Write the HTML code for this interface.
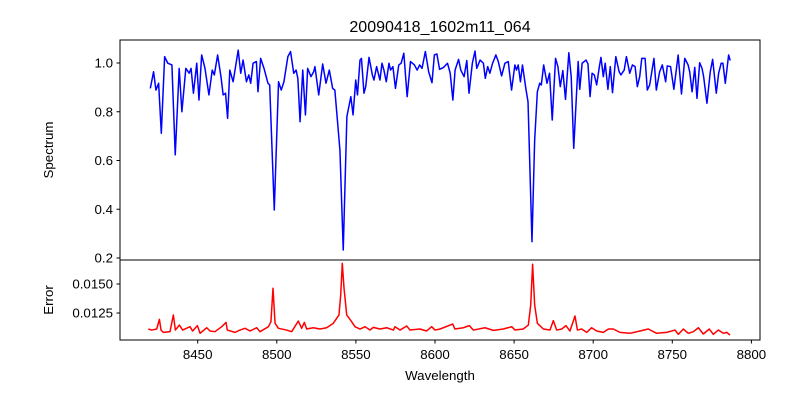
<!DOCTYPE html>
<html><head><meta charset="utf-8"><style>
body{margin:0;background:#fff}
svg{display:block;font-family:"Liberation Sans","DejaVu Sans",sans-serif}
</style></head><body>
<svg id="fig" width="800" height="400" xmlns="http://www.w3.org/2000/svg">
<rect width="800" height="400" fill="#fff"/>
<text x="440" y="32" font-size="16" text-anchor="middle">20090418_1602m11_064</text>
<g id="topPanel"></g>
<g id="botPanel"></g>
<text x="0" y="0" font-size="13.3" text-anchor="middle" transform="translate(53,150) rotate(-90)">Spectrum</text>
<text x="0" y="0" font-size="13.3" text-anchor="middle" transform="translate(53,300) rotate(-90)">Error</text>
<text x="440" y="380" font-size="13.3" text-anchor="middle">Wavelength</text>
</svg>
<script>
const specWave=[8420.05,8422.1,8423.6,8425.3,8427.0,8429.1,8431.1,8433.7,8435.8,8438.3,8440.0,8442.5,8444.6,8445.8,8447.3,8449.4,8450.8,8452.5,8454.6,8457.1,8459.2,8460.5,8462.6,8464.7,8466.1,8467.6,8468.9,8470.3,8472.4,8475.6,8477.2,8478.7,8480.8,8482.3,8483.5,8485.0,8487.1,8488.1,8489.8,8491.9,8494.4,8495.5,8498.4,8501.1,8502.8,8504.5,8507.0,8508.7,8510.7,8512.2,8513.3,8514.7,8516.4,8518.1,8519.5,8521.6,8523.3,8524.1,8526.5,8529.0,8531.1,8533.2,8535.3,8536.7,8539.9,8542.0,8544.3,8546.8,8548.2,8549.9,8551.0,8552.6,8553.5,8555.1,8556.2,8558.3,8560.4,8561.4,8563.1,8565.2,8566.5,8567.7,8569.2,8570.9,8571.9,8573.4,8575.0,8577.1,8578.6,8580.3,8582.4,8584.5,8587.0,8588.7,8590.3,8591.8,8593.9,8596.0,8598.1,8599.6,8601.2,8602.9,8605.4,8607.9,8609.6,8611.3,8612.7,8614.9,8616.3,8618.4,8620.1,8621.5,8623.6,8625.3,8626.4,8628.5,8630.6,8631.8,8633.3,8634.7,8636.4,8638.5,8640.0,8642.1,8644.2,8646.3,8648.4,8650.5,8651.5,8652.6,8654.0,8655.3,8657.4,8658.8,8661.3,8663.0,8664.7,8666.2,8667.2,8668.7,8670.8,8672.4,8674.1,8676.2,8677.7,8679.2,8680.8,8682.5,8684.6,8686.1,8687.7,8690.5,8691.5,8693.0,8695.5,8696.7,8698.0,8699.3,8700.7,8702.2,8703.9,8704.9,8706.4,8707.6,8709.3,8710.8,8712.2,8714.3,8716.4,8717.5,8719.6,8721.0,8723.1,8724.8,8726.5,8727.9,8729.4,8730.7,8732.8,8734.2,8735.7,8738.4,8739.9,8742.0,8743.7,8745.8,8746.8,8748.9,8751.0,8753.7,8755.8,8757.9,8760.0,8761.0,8762.5,8764.2,8765.6,8767.3,8768.8,8769.8,8771.9,8774.0,8775.5,8777.8,8779.3,8780.9,8782.0,8783.5,8785.6,8786.6];
const specFlux=[0.896,0.964,0.889,0.917,0.712,1.026,0.999,0.992,0.623,0.978,0.800,0.978,0.958,0.978,0.876,0.999,0.848,1.033,0.978,0.869,0.971,0.951,1.033,0.944,0.869,0.876,0.773,0.971,0.923,1.053,0.958,1.012,0.923,0.951,0.917,0.999,1.006,0.882,1.019,0.978,0.917,0.910,0.397,0.923,0.889,0.923,1.026,1.047,0.958,0.971,0.937,0.759,0.971,0.787,0.978,0.944,0.964,0.985,0.869,0.996,0.917,0.971,0.896,0.889,0.643,0.233,0.780,0.862,0.787,0.930,0.869,1.012,1.019,0.876,0.903,1.023,0.951,0.930,0.985,0.930,0.999,0.971,0.923,0.999,0.971,0.985,0.896,0.992,0.999,1.040,0.862,1.006,0.992,0.971,0.992,0.978,1.047,0.964,0.919,1.033,1.037,0.974,0.982,0.999,0.958,0.848,0.971,1.015,0.971,0.944,1.010,0.876,0.999,1.049,0.978,1.012,0.999,0.937,0.985,0.958,0.999,1.033,1.006,0.947,0.999,1.006,0.889,0.992,0.971,0.992,0.923,0.992,0.896,0.841,0.267,0.684,0.882,0.917,0.910,0.992,0.917,0.958,0.766,1.019,0.985,0.903,0.969,0.851,1.042,0.944,0.650,1.006,0.892,0.999,1.012,0.996,0.862,0.958,0.951,0.910,0.985,1.023,0.944,0.999,0.892,0.985,0.878,1.026,0.964,0.951,0.971,1.026,0.958,0.992,0.985,0.903,0.944,1.019,1.019,0.889,0.910,1.019,0.889,0.964,0.992,0.923,0.988,0.985,0.892,1.033,0.873,1.019,0.992,0.964,0.882,0.982,0.855,1.001,0.978,0.944,0.835,0.964,1.015,0.876,0.958,0.999,0.999,0.917,1.033,1.010];
const errWave=[8418.8,8420.9,8424.1,8425.8,8426.8,8428.3,8432.5,8434.6,8435.9,8438.4,8440.5,8445.1,8446.8,8449.8,8451.5,8455.7,8457.8,8460.9,8465.2,8467.9,8468.7,8473.6,8476.7,8479.9,8483.1,8487.3,8489.4,8494.7,8496.3,8497.6,8498.9,8501.0,8506.2,8509.4,8513.6,8515.7,8517.4,8518.9,8523.1,8527.3,8531.5,8535.7,8539.3,8540.4,8541.4,8542.5,8544.2,8547.3,8549.4,8552.6,8555.8,8558.9,8561.0,8565.2,8569.5,8573.7,8574.7,8577.9,8582.1,8584.2,8590.5,8594.7,8597.9,8600.0,8603.2,8611.2,8612.6,8617.9,8621.7,8624.2,8631.6,8636.9,8643.2,8648.5,8650.6,8655.8,8659.0,8660.5,8661.7,8663.0,8664.7,8668.5,8672.7,8674.8,8676.9,8680.1,8682.8,8685.3,8688.5,8690.0,8692.7,8695.9,8699.0,8702.2,8706.4,8709.6,8712.7,8716.9,8723.3,8729.6,8734.8,8740.1,8746.4,8751.7,8753.8,8757.0,8760.1,8763.3,8766.5,8769.6,8773.4,8775.9,8779.1,8782.3,8784.4,8786.5];
const errVal=[0.01112,0.01103,0.01112,0.01195,0.01103,0.01083,0.01089,0.01233,0.01103,0.01146,0.01103,0.01132,0.01095,0.01141,0.01075,0.01123,0.01095,0.01089,0.01132,0.01169,0.01103,0.01083,0.01103,0.01118,0.01095,0.01123,0.01089,0.01132,0.01175,0.01463,0.01161,0.01118,0.01103,0.01089,0.01181,0.01118,0.01169,0.01112,0.01123,0.01112,0.01123,0.01161,0.01233,0.01405,0.01678,0.01463,0.01233,0.01175,0.01132,0.01112,0.01132,0.01103,0.01126,0.01112,0.01123,0.01103,0.01132,0.01103,0.01138,0.01103,0.01112,0.01095,0.01132,0.01103,0.01112,0.01155,0.01112,0.01123,0.01141,0.01103,0.01123,0.01100,0.01112,0.01132,0.01103,0.01112,0.01146,0.01319,0.01670,0.01319,0.01161,0.01112,0.01103,0.01184,0.01103,0.01112,0.01141,0.01095,0.01224,0.01103,0.01112,0.01083,0.01123,0.01095,0.01083,0.01112,0.01112,0.01083,0.01075,0.01095,0.01112,0.01075,0.01083,0.01103,0.01066,0.01112,0.01075,0.01089,0.01123,0.01069,0.01112,0.01066,0.01103,0.01075,0.01083,0.01060];
const xTicks=[8450,8500,8550,8600,8650,8700,8750,8800];
const specTicks=[0.2,0.4,0.6,0.8,1.0];
const errTicks=[0.0125,0.0150];

const NS="http://www.w3.org/2000/svg";
const X=w=>197.7+(w-8450)*1.582;
const YS=v=>63+(1-v)*243.75;
const YE=v=>313-(v-0.0125)*11600;
function mk(tag,attrs,parent){const e=document.createElementNS(NS,tag);for(const k in attrs)e.setAttribute(k,attrs[k]);parent.appendChild(e);return e;}
const topG=document.getElementById('topPanel'), botG=document.getElementById('botPanel');

let p=mk('polyline',{points:specWave.map((w,i)=>X(w).toFixed(2)+','+YS(specFlux[i]).toFixed(2)).join(' '),fill:'none',stroke:'#0000ff','stroke-width':1.5,'stroke-linejoin':'round'},topG);


let q=mk('polyline',{points:errWave.map((w,i)=>X(w).toFixed(2)+','+YE(errVal[i]).toFixed(2)).join(' '),fill:'none',stroke:'#ff0000','stroke-width':1.5,'stroke-linejoin':'round'},botG);



let f1=mk('rect',{x:120,y:40,width:640,height:220,fill:'none',stroke:'#000','stroke-width':1},topG);


let f2=mk('rect',{x:120,y:260,width:640,height:80,fill:'none',stroke:'#000','stroke-width':1},botG);



specTicks.forEach(v=>{const y=YS(v);
 let t=mk('line',{x1:116.5,x2:120,y1:y,y2:y,stroke:'#000'},topG);
 
 
 let l=mk('text',{x:113,y:y+4.5,'font-size':13.3,'text-anchor':'end'},topG);l.textContent=v.toFixed(1);
 
 
});
errTicks.forEach(v=>{const y=YE(v);
 let t=mk('line',{x1:116.5,x2:120,y1:y,y2:y,stroke:'#000'},botG);
 
 
 let l=mk('text',{x:113,y:y+4.5,'font-size':13.3,'text-anchor':'end'},botG);l.textContent=v.toFixed(4);
 
 
});
xTicks.forEach(w=>{const x=X(w);
 let t=mk('line',{x1:x,x2:x,y1:340,y2:343.5,stroke:'#000'},botG);
 
 
 let l=mk('text',{x:x,y:359,'font-size':13.3,'text-anchor':'middle'},botG);l.textContent=w;
 
 
});
</script>
</body></html>
